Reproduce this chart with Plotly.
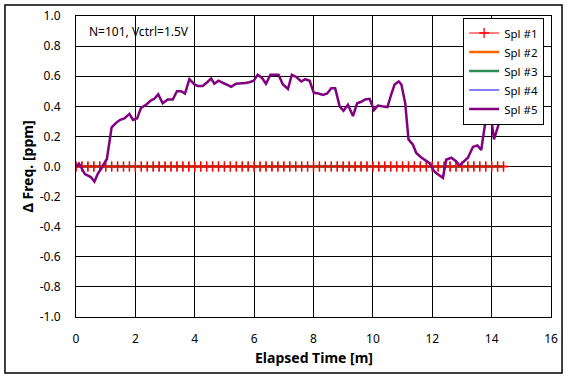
import plotly.graph_objects as go

# ---- data ----
t_ref = [round(i * 0.2, 1) for i in range(73)]  # sample times [min] for Spl #1..#4
spl1 = [0.0] * 73
spl2 = [0.0] * 73
spl3 = [0.0] * 73
spl4 = [0.0] * 73

t5 = [0.0, 0.1, 0.3, 0.5, 0.62, 0.73, 0.86, 1.04, 1.2, 1.35, 1.49, 1.63, 1.8, 1.92,
      2.06, 2.19, 2.36, 2.53, 2.64, 2.77, 2.92, 3.09, 3.26, 3.4, 3.54, 3.67, 3.82,
      3.99, 4.1, 4.27, 4.42, 4.55, 4.66, 4.8, 4.95, 5.09, 5.23, 5.39, 5.56, 5.7,
      5.84, 5.99, 6.12, 6.26, 6.4, 6.55, 6.82, 6.97, 7.14, 7.27, 7.42, 7.59, 7.72,
      7.87, 8.01, 8.17, 8.32, 8.46, 8.6, 8.73, 8.88, 9.01, 9.16, 9.33, 9.47, 9.61,
      9.74, 9.89, 10.04, 10.17, 10.31, 10.49, 10.62, 10.73, 10.87, 10.96, 11.09,
      11.2, 11.35, 11.46, 11.63, 11.8, 11.91, 12.06, 12.14, 12.36, 12.47, 12.64,
      12.8, 12.92, 13.04, 13.2, 13.37, 13.52, 13.65, 13.77, 13.9, 13.99, 14.08,
      14.22, 14.39, 14.5]
spl5 = [0.0, 0.02, -0.05, -0.07, -0.10, -0.05, -0.01, 0.05, 0.26, 0.29, 0.31, 0.32,
        0.35, 0.31, 0.32, 0.39, 0.41, 0.44, 0.45, 0.48, 0.42, 0.445, 0.445, 0.50,
        0.50, 0.485, 0.58, 0.545, 0.535, 0.535, 0.56, 0.585, 0.55, 0.57, 0.555,
        0.545, 0.53, 0.55, 0.55, 0.555, 0.56, 0.57, 0.61, 0.59, 0.55, 0.61, 0.61,
        0.545, 0.515, 0.61, 0.595, 0.565, 0.58, 0.57, 0.49, 0.485, 0.475, 0.485,
        0.52, 0.52, 0.40, 0.37, 0.41, 0.335, 0.42, 0.43, 0.445, 0.45, 0.375, 0.405,
        0.40, 0.395, 0.48, 0.545, 0.565, 0.545, 0.42, 0.18, 0.145, 0.09, 0.06,
        0.035, 0.022, -0.03, -0.045, -0.075, 0.045, 0.058, 0.035, 0.007, 0.03,
        0.058, 0.13, 0.14, 0.11, 0.27, 0.36, 0.32, 0.18, 0.27, 0.38, 0.45]

x_ticks = [0, 2, 4, 6, 8, 10, 12, 14, 16]
y_ticks = [-1.0, -0.8, -0.6, -0.4, -0.2, 0.0, 0.2, 0.4, 0.6, 0.8, 1.0]
y_tick_text = ["-1.0", "-0.8", "-0.6", "-0.4", "-0.2", "0.0", "0.2", "0.4", "0.6", "0.8", "1.0"]

FONT = "Noto Sans"

fig = go.Figure()
fig.add_trace(go.Scatter(x=t_ref, y=spl1, name="Spl #1", mode="lines+markers",
                         line=dict(color="#ff0000", width=1),
                         marker=dict(symbol="cross-thin", size=7,
                                     line=dict(color="#ff0000", width=1.3))))
fig.add_trace(go.Scatter(x=t_ref, y=spl2, name="Spl #2", mode="lines",
                         line=dict(color="#ff6600", width=2.5)))
fig.add_trace(go.Scatter(x=t_ref, y=spl3, name="Spl #3", mode="lines",
                         line=dict(color="#2e8b57", width=2.5)))
fig.add_trace(go.Scatter(x=t_ref, y=spl4, name="Spl #4", mode="lines",
                         line=dict(color="#0000ff", width=1)))
# markers of Spl #1 drawn over the other flat lines (as Excel does)
fig.add_trace(go.Scatter(x=t_ref, y=spl1, mode="markers", showlegend=False,
                         hoverinfo="skip",
                         marker=dict(symbol="cross-thin", size=7,
                                     line=dict(color="#ff0000", width=1.3))))
fig.add_trace(go.Scatter(x=t5, y=spl5, name="Spl #5", mode="lines",
                         line=dict(color="#800080", width=2.5)))

fig.update_layout(
    width=569, height=380,
    margin=dict(l=76, r=18, t=16, b=63),
    paper_bgcolor="white", plot_bgcolor="white",
    font=dict(family=FONT, size=12, color="black"),
    showlegend=True,
    legend=dict(x=0.815, y=0.995, xanchor="left", yanchor="top",
                bgcolor="white", bordercolor="black", borderwidth=1,
                font=dict(family=FONT, size=11.5), tracegroupgap=0,
                itemwidth=30),
    xaxis=dict(range=[0, 16], tickvals=x_ticks, showgrid=True,
               gridcolor="black", gridwidth=1.2, showline=True, linecolor="black",
               linewidth=1.2, mirror=True, zeroline=False, ticks="",
               ticklabelstandoff=10, automargin=False),
    yaxis=dict(range=[-1.0, 1.0], tickvals=y_ticks, ticktext=y_tick_text,
               showgrid=True, gridcolor="black", gridwidth=1.2, showline=True,
               linecolor="black", linewidth=1.2, mirror=True, zeroline=False,
               ticks="", ticklabelstandoff=12, automargin=False),
    annotations=[
        dict(text="N=101, Vctrl=1.5V", xref="paper", yref="paper",
             x=0.023, y=0.95, xanchor="left", yanchor="middle",
             showarrow=False, font=dict(family=FONT, size=12)),
        dict(text="<b>Elapsed Time [m]</b>", xref="paper", yref="paper",
             x=0.5, y=-0.133, xanchor="center", yanchor="middle",
             showarrow=False, font=dict(family=FONT, size=14)),
        dict(text="<b>Δ Freq. [ppm]</b>", xref="paper", yref="paper",
             x=-0.103, y=0.5, xanchor="center", yanchor="middle", textangle=-90,
             showarrow=False, font=dict(family=FONT, size=14)),
    ],
    shapes=[dict(type="rect", xref="paper", yref="paper",
                 x0=-0.1495, x1=1.0232, y0=-0.186, y1=1.0365,
                 line=dict(color="black", width=1.5), fillcolor="rgba(0,0,0,0)",
                 layer="above")],
)

fig.write_html("out.html", config={"displayModeBar": False},
               post_script="document.body.style.margin='0';document.body.style.overflow='hidden';")
